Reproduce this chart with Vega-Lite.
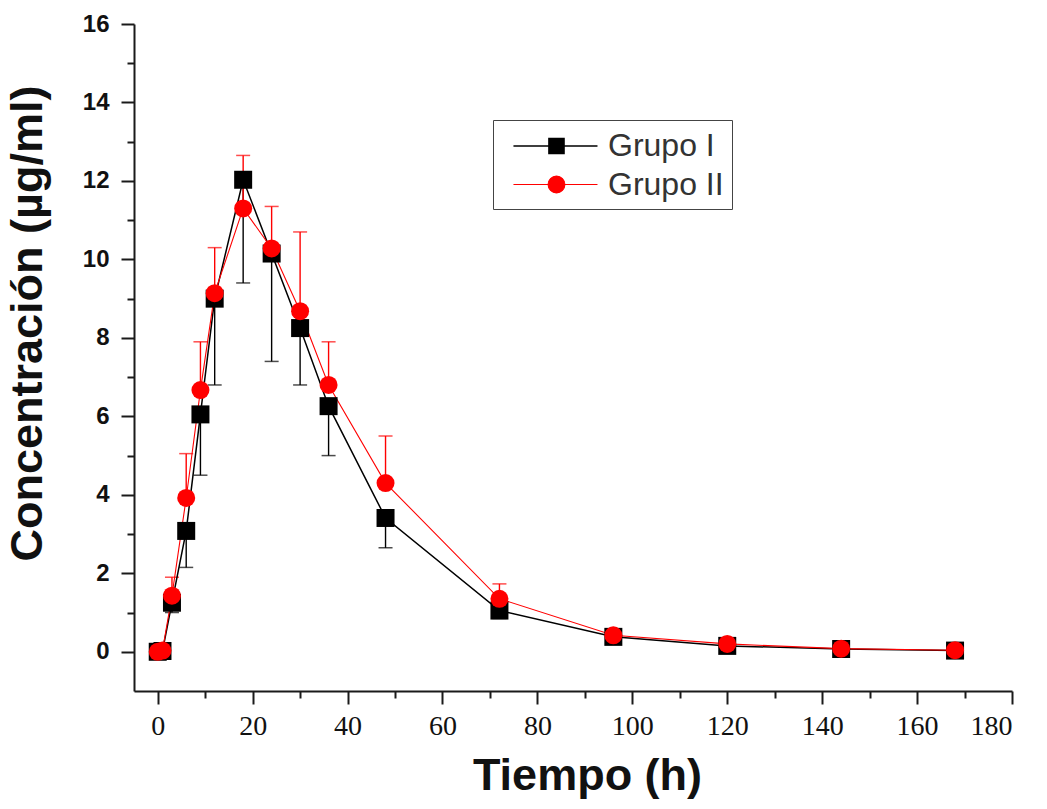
{
  "$schema": "https://vega.github.io/schema/vega-lite/v6.json",
  "width": 878,
  "height": 667,
  "autosize": "none",
  "padding": {"left": 134, "top": 24, "right": 35, "bottom": 118},
  "background": "white",
  "config": {
    "view": {"stroke": null},
    "axis": {
      "grid": false,
      "domainColor": "#1a1a1a",
      "domainWidth": 2,
      "tickColor": "#1a1a1a",
      "tickWidth": 2,
      "labelColor": "#111111",
      "titleColor": "#111111",
      "titleFont": "Liberation Sans",
      "titleFontWeight": "bold",
      "titleFontSize": 45
    }
  },
  "data": {
    "values": [
      {"g": "Grupo I", "t": 0, "c": 0.0, "e": 0.0},
      {"g": "Grupo I", "t": 1, "c": 0.02, "e": 0.0},
      {"g": "Grupo I", "t": 3, "c": 1.25, "e": 1.0},
      {"g": "Grupo I", "t": 6, "c": 3.08, "e": 2.15},
      {"g": "Grupo I", "t": 9, "c": 6.05, "e": 4.5},
      {"g": "Grupo I", "t": 12, "c": 9.0, "e": 6.8},
      {"g": "Grupo I", "t": 18, "c": 12.03, "e": 9.4},
      {"g": "Grupo I", "t": 24, "c": 10.15, "e": 7.4},
      {"g": "Grupo I", "t": 30, "c": 8.25, "e": 6.8},
      {"g": "Grupo I", "t": 36, "c": 6.26, "e": 5.0},
      {"g": "Grupo I", "t": 48, "c": 3.41, "e": 2.65},
      {"g": "Grupo I", "t": 72, "c": 1.05, "e": 0.85},
      {"g": "Grupo I", "t": 96, "c": 0.38, "e": 0.3},
      {"g": "Grupo I", "t": 120, "c": 0.15, "e": 0.12},
      {"g": "Grupo I", "t": 144, "c": 0.07, "e": 0.05},
      {"g": "Grupo I", "t": 168, "c": 0.03, "e": 0.02},
      {"g": "Grupo II", "t": 0, "c": 0.0, "e": 0.0},
      {"g": "Grupo II", "t": 1, "c": 0.03, "e": 0.05},
      {"g": "Grupo II", "t": 3, "c": 1.43, "e": 1.9},
      {"g": "Grupo II", "t": 6, "c": 3.92, "e": 5.05},
      {"g": "Grupo II", "t": 9, "c": 6.67, "e": 7.9},
      {"g": "Grupo II", "t": 12, "c": 9.14, "e": 10.3},
      {"g": "Grupo II", "t": 18, "c": 11.3, "e": 12.65},
      {"g": "Grupo II", "t": 24, "c": 10.28, "e": 11.35},
      {"g": "Grupo II", "t": 30, "c": 8.68, "e": 10.7},
      {"g": "Grupo II", "t": 36, "c": 6.8, "e": 7.9},
      {"g": "Grupo II", "t": 48, "c": 4.3, "e": 5.5},
      {"g": "Grupo II", "t": 72, "c": 1.35, "e": 1.73},
      {"g": "Grupo II", "t": 96, "c": 0.42, "e": 0.5},
      {"g": "Grupo II", "t": 120, "c": 0.2, "e": 0.25},
      {"g": "Grupo II", "t": 144, "c": 0.08, "e": 0.1},
      {"g": "Grupo II", "t": 168, "c": 0.04, "e": 0.06}
    ]
  },
  "encoding": {
    "x": {
      "field": "t",
      "type": "quantitative",
      "scale": {"domain": [-5, 180], "nice": false, "zero": false},
      "axis": {
        "title": "Tiempo (h)",
        "values": [0, 10, 20, 30, 40, 50, 60, 70, 80, 90, 100, 110, 120, 130, 140, 150, 160, 170, 180],
        "labelExpr": "datum.value % 20 === 0 ? datum.label : ''",
        "tickSize": {"condition": {"test": "datum.value % 20 === 0", "value": 13}, "value": 7},
        "labelFont": "Liberation Sans Narrow",
        "labelFontSize": 28,
        "labelPadding": 8,
        "labelOverlap": false,
        "titlePadding": 13,
        "titleX": 453
      }
    },
    "y": {
      "field": "c",
      "type": "quantitative",
      "scale": {"domain": [-1, 16], "nice": false, "zero": false},
      "axis": {
        "title": "Concentración (µg/ml)",
        "values": [0, 1, 2, 3, 4, 5, 6, 7, 8, 9, 10, 11, 12, 13, 14, 15, 16],
        "labelExpr": "datum.value % 2 === 0 ? datum.label : ''",
        "tickSize": {"condition": {"test": "datum.value % 2 === 0", "value": 13}, "value": 7},
        "labelFont": "Liberation Sans",
        "labelFontWeight": "bold",
        "labelFontSize": 24,
        "labelPadding": 12,
        "labelOverlap": false,
        "titlePadding": 32,
        "titleY": 299
      }
    },
    "color": {
      "field": "g",
      "type": "nominal",
      "scale": {"domain": ["Grupo I", "Grupo II"], "range": ["#000000", "#ff0000"]},
      "legend": {
        "orient": "none",
        "legendX": 359,
        "legendY": 96,
        "title": null,
        "strokeColor": "#444444",
        "fillColor": "white",
        "padding": 8,
        "labelFont": "Liberation Sans",
        "labelFontSize": 32,
        "labelColor": "#333333",
        "symbolSize": 1130,
        "symbolStrokeWidth": 1.2,
        "symbolOpacity": 1,
        "labelOffset": 71,
        "rowPadding": 5
      }
    }
  },
  "layer": [
    {
      "mark": {"type": "rule", "strokeWidth": 1.4},
      "encoding": {
        "y2": {"field": "e"}
      }
    },
    {
      "mark": {"type": "tick", "orient": "horizontal", "size": 14, "thickness": 1.5},
      "encoding": {
        "y": {"field": "e", "type": "quantitative"}
      }
    },
    {
      "mark": {"type": "line"},
      "encoding": {
        "strokeWidth": {
          "field": "g",
          "type": "nominal",
          "scale": {"domain": ["Grupo I", "Grupo II"], "range": [1.5, 1.1]},
          "legend": null
        }
      }
    },
    {
      "transform": [{"filter": "datum.g === 'Grupo I'"}],
      "mark": {"type": "point", "shape": "square", "filled": true, "opacity": 1, "size": 324}
    },
    {
      "transform": [{"filter": "datum.g === 'Grupo II'"}],
      "mark": {"type": "point", "shape": "circle", "filled": true, "opacity": 1, "size": 324}
    },
    {
      "transform": [{"filter": "datum.t < -100"}],
      "mark": {"type": "point", "filled": true, "opacity": 1},
      "encoding": {
        "shape": {
          "field": "g",
          "type": "nominal",
          "scale": {"domain": ["Grupo I", "Grupo II"], "range": ["M-0.33,0H4.67M1.78,-0.45H2.68V0.45H1.78Z", "M-0.33,0H4.67M2.73,0A0.5,0.5 0 1,1 1.73,0A0.5,0.5 0 1,1 2.73,0Z"]}
        },
        "stroke": {
          "field": "g",
          "type": "nominal",
          "scale": {"domain": ["Grupo I", "Grupo II"], "range": ["#000000", "#ff0000"]}
        }
      }
    }
  ]
}
